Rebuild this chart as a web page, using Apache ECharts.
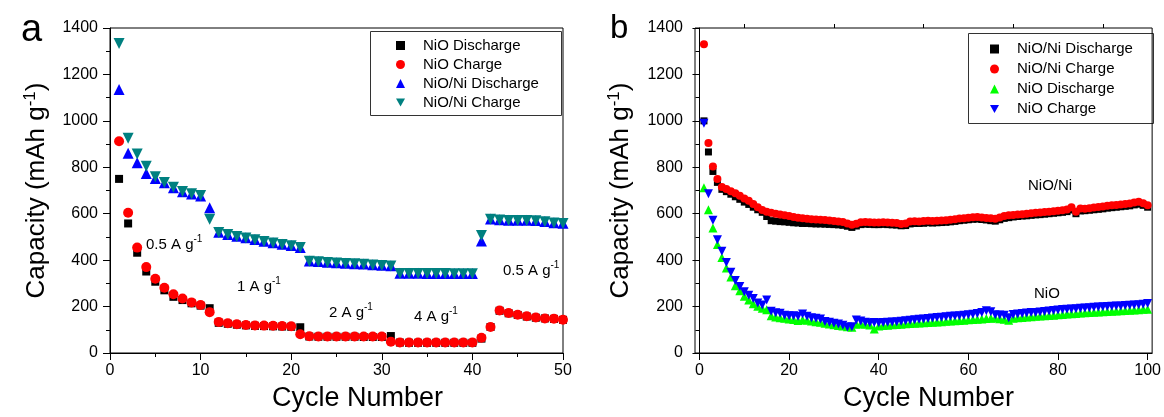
<!DOCTYPE html>
<html>
<head>
<meta charset="utf-8">
<script src="https://cdn.jsdelivr.net/npm/echarts@6/dist/echarts.min.js"></script>
<style>
html,body{margin:0;padding:0;background:#fff;}
#c{width:1164px;height:417px;}
</style>
</head>
<body>
<div id="c"></div>
<script>
// ---------- Panel a: rate capability (cycles 1..50) ----------
const cyclesA = [1,2,3,4,5,6,7,8,9,10,11,12,13,14,15,16,17,18,19,20,21,22,23,24,25,26,27,28,29,30,31,32,33,34,35,36,37,38,39,40,41,42,43,44,45,46,47,48,49,50];
const aNiODischarge = [750,558,432,351,307,270,242,228,214,204,193,130,126,122,119,117,116,115,114,113,111,71,70,70,70,70,70,69,69,69,73,45,44,44,44,44,44,44,44,44,62,112,182,171,164,157,152,149,147,143];
const aNiOCharge = [912,604,454,370,320,281,253,235,218,207,176,134,128,124,121,119,118,117,116,115,81,72,71,71,71,71,71,71,71,71,49,45,45,45,45,45,45,45,45,45,66,112,183,172,165,158,153,149,148,143];
const aNiONiDischarge = [1135,860,820,773,752,733,712,695,685,676,626,520,511,503,496,489,481,475,468,463,455,396,394,391,389,387,385,383,380,378,376,344,344,344,343,343,343,342,342,342,482,577,574,572,572,572,571,566,561,559];
const aNiONiCharge = [1333,925,857,804,759,735,714,696,686,678,576,519,510,502,495,488,480,474,467,462,454,395,393,390,388,386,384,382,379,377,375,343,343,343,342,342,342,341,341,341,506,576,573,571,571,571,570,565,560,558];

// ---------- Panel b: cycling (cycles 1..100) ----------
const cyclesB = [1,2,3,4,5,6,7,8,9,10,11,12,13,14,15,16,17,18,19,20,21,22,23,24,25,26,27,28,29,30,31,32,33,34,35,36,37,38,39,40,41,42,43,44,45,46,47,48,49,50,51,52,53,54,55,56,57,58,59,60,61,62,63,64,65,66,67,68,69,70,71,72,73,74,75,76,77,78,79,80,81,82,83,84,85,86,87,88,89,90,91,92,93,94,95,96,97,98,99,100];
const bNiONiDischarge = [1000,866,782,735,705,695,684,673,662,650,640,628,617,606,588,570,568,566,565,563,561,560,558,558,557,556,556,555,554,553,552,550,546,541,547,553,555,554,553,553,554,553,552,551,548,549,556,558,558,559,561,560,561,562,563,565,567,570,572,574,576,577,575,573,570,568,574,580,583,586,588,590,591,593,595,596,598,600,602,604,606,609,616,600,612,613,615,617,619,621,624,626,628,630,632,634,638,641,636,628];
const bNiONiCharge = [1330,905,803,750,715,706,697,688,677,666,656,642,628,616,609,604,600,597,593,590,586,583,580,578,576,575,574,573,571,569,567,564,558,553,557,563,564,563,562,562,563,562,561,560,556,558,566,568,567,569,570,569,570,571,572,574,576,579,581,583,585,586,584,582,580,578,584,590,593,595,597,598,600,602,604,605,607,609,611,613,615,618,628,608,622,621,624,627,629,631,634,636,638,640,642,644,648,652,645,636];
const bNiODischarge = [712,617,539,467,411,366,327,290,268,245,228,212,201,193,186,160,155,152,150,146,144,140,143,141,138,135,132,128,125,122,119,116,113,111,124,126,124,121,103,116,118,120,122,123,124,126,127,128,129,130,131,133,134,135,137,138,139,140,141,143,144,145,147,149,150,151,148,145,141,150,152,153,155,156,158,159,160,162,163,165,166,168,169,170,172,173,174,176,177,178,179,180,181,182,183,184,185,186,188,189];
const bNiOCharge = [990,686,572,488,438,390,348,312,286,264,249,235,215,207,228,180,173,171,163,161,160,158,168,158,152,150,146,136,132,128,125,120,112,113,142,138,132,130,131,130,131,132,134,135,137,139,141,143,145,147,149,151,153,154,156,158,159,161,163,165,167,170,175,182,178,165,164,163,152,166,168,170,172,174,175,177,179,181,183,185,187,189,190,191,193,194,195,197,198,199,200,201,202,203,205,206,207,208,210,213];

// ---------- labels ----------
const legendA = ['NiO Discharge','NiO Charge','NiO/Ni Discharge','NiO/Ni Charge'];
const legendB = ['NiO/Ni Discharge','NiO/Ni Charge','NiO Discharge','NiO Charge'];
const xTicksB = [0,20,40,60,80,100];
const xMinorB = [10,30,50,70,90];
const yTitle = '{n|Capacity (mAh g}{s|-1}{n|)}';
const xTitle = 'Cycle Number';

const FONT = "'Liberation Sans', Arial, sans-serif";
const DOWN_TRI = 'path://M0,0L10,0L5,9Z';

function pairs(xs, ys){ return xs.map((x,i)=>[x, ys[i]]); }

const chart = echarts.init(document.getElementById('c'), null, {renderer:'canvas'});

const yTitleStyle = {
  fontFamily: FONT, color:'#000',
  rich: {
    n: {fontSize: 26, lineHeight: 30, fontFamily: FONT, color:'#000'},
    s: {fontSize: 17, lineHeight: 16, verticalAlign: 'top', fontFamily: FONT, color:'#000'}
  }
};

function yAxis(grid){
  return {
    type:'value', gridIndex: grid, min:0, max:1400, interval:200,
    axisLine:{show:true, lineStyle:{color:'#000', width:1}},
    axisTick:{show:true, inside:false, length:7, lineStyle:{color:'#000'}},
    minorTick:{show:true, splitNumber:2, length:4, lineStyle:{color:'#000'}},
    splitLine:{show:false},
    axisLabel:{fontSize:16, color:'#000', fontFamily:FONT, margin:12, formatter: v => String(v)},
    name: yTitle, nameLocation:'middle', nameGap: 58, nameRotate: 90,
    nameTextStyle: yTitleStyle
  };
}

const xName = {fontSize: 27, color:'#000', fontFamily: FONT};

function legend(names, prefix, left, top, lh, downIdx){
  return {left:left, top:top, orient:'vertical', padding:0, itemGap:0, itemWidth:9, itemHeight:9,
    data: names.map((n,i)=> i===downIdx ? {name:prefix+n, icon:DOWN_TRI} : {name:prefix+n}),
    formatter: n=>n.slice(2),
    textStyle:{fontSize:15, color:'#000', fontFamily:FONT, lineHeight:lh, padding:[0,0,0,13]},
    selectedMode:false};
}

function sc(name, xi, sym, size, color, data, rot){
  const s = {name:name, type:'scatter', xAxisIndex:xi, yAxisIndex:xi, symbol:sym, symbolSize:size,
    itemStyle:{color:color, opacity:1}, data:data};
  if (rot) s.symbolRotate = rot;
  return s;
}

const option = {
  animation:false,
  backgroundColor:'#fff',
  grid:[
    {left:110, right:601, top:28, bottom:57, show:true, borderColor:'#000', borderWidth:1, backgroundColor:'transparent'},
    {left:695, right:11, top:28, bottom:56, show:true, borderColor:'#000', borderWidth:1, backgroundColor:'transparent'}
  ],
  xAxis:[
    {type:'value', gridIndex:0, min:0, max:50, interval:10,
     axisLine:{show:true, lineStyle:{color:'#000'}},
     axisTick:{show:true, inside:false, length:7, lineStyle:{color:'#000'}},
     minorTick:{show:true, splitNumber:2, length:4, lineStyle:{color:'#000'}},
     splitLine:{show:false},
     axisLabel:{fontSize:16, color:'#000', fontFamily:FONT, margin:10},
     name:xTitle, nameLocation:'middle', nameGap:32,
     nameTextStyle:Object.assign({padding:[0,0,0,42]}, xName)},
    {type:'value', gridIndex:1, min:-1, max:101,
     axisLine:{show:true, lineStyle:{color:'#000'}},
     axisTick:{show:true, inside:false, length:7, customValues:xTicksB, lineStyle:{color:'#000'}},
     splitLine:{show:false},
     axisLabel:{fontSize:16, color:'#000', fontFamily:FONT, margin:10, customValues:xTicksB},
     name:xTitle, nameLocation:'middle', nameGap:32,
     nameTextStyle:Object.assign({padding:[0,0,0,10]}, xName)},
    {type:'value', gridIndex:1, min:-1, max:101,
     axisLine:{show:false},
     axisTick:{show:true, inside:false, length:4, customValues:xMinorB, lineStyle:{color:'#000'}},
     axisLabel:{show:false, customValues:xMinorB},
     splitLine:{show:false}}
  ],
  yAxis:[ yAxis(0), Object.assign(yAxis(1), {nameGap:59}) ],
  legend:[
    legend(legendA, 'a:', 396, 36, 19, 3),
    legend(legendB, 'b:', 990, 39, 20, 3)
  ],
  series:[
    sc('a:'+legendA[0], 0, 'rect', 8, '#000000', pairs(cyclesA, aNiODischarge)),
    sc('a:'+legendA[1], 0, 'circle', 10, '#ff0000', pairs(cyclesA, aNiOCharge)),
    sc('a:'+legendA[2], 0, 'triangle', 11, '#0000ff', pairs(cyclesA, aNiONiDischarge)),
    sc('a:'+legendA[3], 0, 'triangle', 11, '#008080', pairs(cyclesA, aNiONiCharge), 180),
    sc('b:'+legendB[0], 1, 'rect', 7, '#000000', pairs(cyclesB, bNiONiDischarge)),
    sc('b:'+legendB[1], 1, 'circle', 8, '#ff0000', pairs(cyclesB, bNiONiCharge)),
    sc('b:'+legendB[2], 1, 'triangle', 9, '#00ff00', pairs(cyclesB, bNiODischarge)),
    sc('b:'+legendB[3], 1, 'triangle', 9, '#0000ff', pairs(cyclesB, bNiOCharge), 180)
  ],
  graphic:[
    {type:'rect', shape:{x:370.5, y:31.5, width:191, height:84}, style:{fill:'#fff', stroke:'#333', lineWidth:1}, z:-1},
    {type:'rect', shape:{x:968.5, y:33.5, width:185, height:90}, style:{fill:'#fff', stroke:'#333', lineWidth:1}, z:-1},
    {type:'text', left:21, top:12, style:{text:'a', fontSize:38, fontFamily:FONT, fill:'#000'}},
    {type:'text', left:610, top:12, style:{text:'b', fontSize:33, fontFamily:FONT, fill:'#000'}}
  ].concat([
    ['0.5 A g', 146, 234],
    ['1 A g', 237, 276],
    ['2 A g', 329, 302],
    ['4 A g', 414, 306],
    ['0.5 A g', 503, 260]
  ].map(([t,x,y])=>({
    type:'text', left:x, top:y,
    style:{text:'{n|'+t+'}{s|-1}', fill:'#000',
      rich:{n:{fontSize:15, lineHeight:22, fontFamily:FONT, fill:'#000'},
            s:{fontSize:10, lineHeight:12, verticalAlign:'top', fontFamily:FONT, fill:'#000'}}}
  }))).concat([
    {type:'text', left:1028, top:178, style:{text:'NiO/Ni', fontSize:15, fontFamily:FONT, fill:'#000'}},
    {type:'text', left:1034, top:286, style:{text:'NiO', fontSize:15, fontFamily:FONT, fill:'#000'}}
  ])
};
chart.setOption(option);
</script>
</body>
</html>
